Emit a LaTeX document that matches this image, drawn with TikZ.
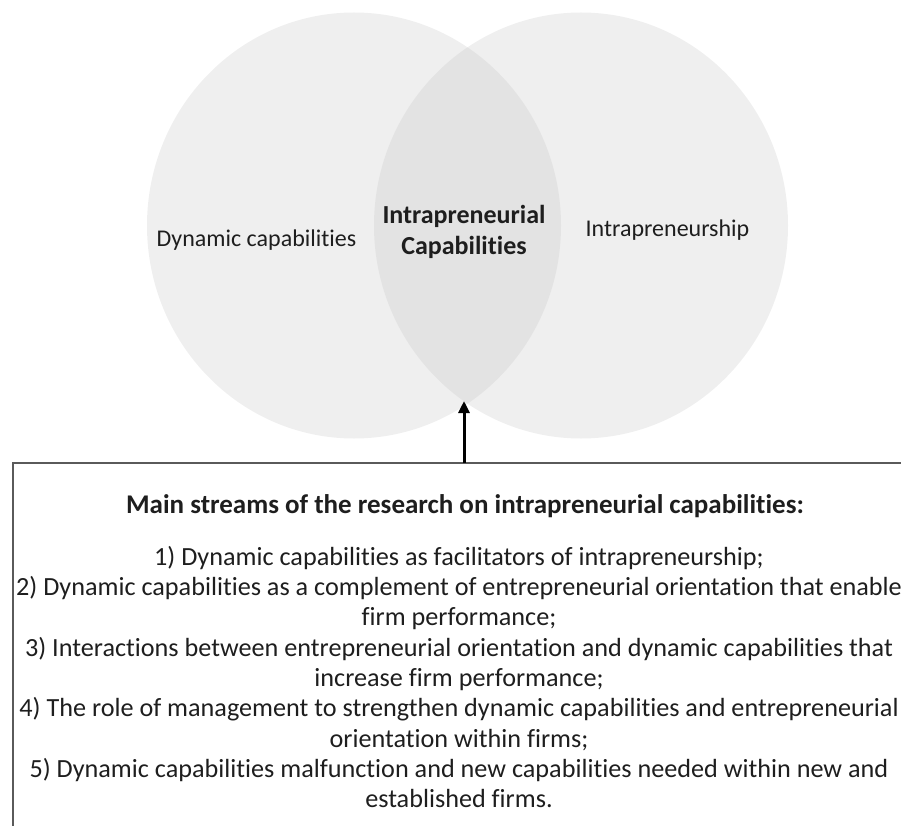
\documentclass[tikz,border=0pt]{standalone}
\usepackage{fontspec}
\setmainfont{Carlito}[Ligatures=NoCommon]
\usetikzlibrary{arrows.meta}
\definecolor{setfill}{HTML}{EFEFEF}
\definecolor{lensfill}{HTML}{E3E3E3}
\definecolor{framegray}{HTML}{5A5A5A}
\definecolor{ink}{HTML}{1E1E1E}
\begin{document}
\begin{tikzpicture}[x=1pt,y=-1pt,
    setlabel/.style={text=ink,inner sep=0pt,font=\fontsize{24}{28}\selectfont},
    lenslabel/.style={text=ink,inner sep=0pt,align=center,font=\fontsize{26}{30.5}\selectfont\bfseries},
    bodytext/.style={text=ink,inner sep=0pt,align=center,font=\fontsize{26.2}{30.3}\selectfont},
    frame/.style={draw=framegray,line width=1.6pt},
    pointer/.style={-{Triangle[length=12pt,width=11pt]},line width=3pt,draw=black}]
  \useasboundingbox (0,0) rectangle (901,826);
  % the two overlapping sets
  \fill[setfill] (354,225.5) ellipse [x radius=207,y radius=213];
  \fill[setfill] (581,225.5) ellipse [x radius=207,y radius=213];
  \begin{scope}
    \clip (354,225.5) ellipse [x radius=207,y radius=213];
    \fill[lensfill] (581,225.5) ellipse [x radius=207,y radius=213];
  \end{scope}
  \node[setlabel] (dyn) at (256.5,240) {Dynamic capabilities};
  \node[setlabel] (intra) at (667.5,230) {Intrapreneurship};
  \node[lenslabel] (ic) at (464,232) {Intrapreneurial\\Capabilities};
  \coordinate (tip) at (464,401);
  % summary box, open to the right and bottom
  \begin{scope}
    \clip (0,0) rectangle (901,826);
    \draw[frame] (13,840) -- (13,463) -- (915,463);
  \end{scope}
  \coordinate (boxtop) at (464,463);
  \draw[pointer] (boxtop) -- (tip);
  \node[bodytext,font=\fontsize{27}{30.3}\selectfont\bfseries] (title) at (465,506)
    {Main streams of the research on intrapreneurial capabilities:};
  \node[bodytext] (streams) at (459,677)
    {1) Dynamic capabilities as facilitators of intrapreneurship;\\
     2) Dynamic capabilities as a complement of entrepreneurial orientation that enable\\
     firm performance;\\
     3) Interactions between entrepreneurial orientation and dynamic capabilities that\\
     increase firm performance;\\
     4) The role of management to strengthen dynamic capabilities and entrepreneurial\\
     orientation within firms;\\
     5) Dynamic capabilities malfunction and new capabilities needed within new and\\
     established firms.};
\end{tikzpicture}
\end{document}
